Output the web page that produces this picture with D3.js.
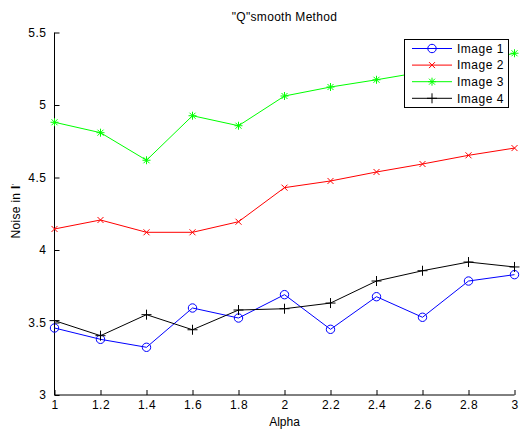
<!DOCTYPE html>
<html><head><meta charset="utf-8">
<script src="https://cdn.jsdelivr.net/npm/d3@7"></script>
<style>body{margin:0;background:#fff}svg{display:block;font-family:"Liberation Sans",Arial,sans-serif}</style>
</head><body><svg id="c" width="523" height="433"></svg>
<script>
const alpha = [1, 1.2, 1.4, 1.6, 1.8, 2.0, 2.2, 2.4, 2.6, 2.8, 3.0];
const image1 = [3.462, 3.384, 3.329, 3.600, 3.531, 3.692, 3.453, 3.678, 3.536, 3.786, 3.830];
const image2 = [4.145, 4.207, 4.122, 4.122, 4.195, 4.430, 4.476, 4.538, 4.593, 4.653, 4.703];
const image3 = [4.881, 4.809, 4.619, 4.926, 4.857, 5.062, 5.124, 5.174, 5.228, 5.290, 5.357];
const image4 = [3.513, 3.409, 3.554, 3.450, 3.586, 3.595, 3.634, 3.786, 3.857, 3.917, 3.883];
const seriesNames = ["Image 1", "Image 2", "Image 3", "Image 4"];
const colors = ["#0000ff", "#ff0000", "#00ff00", "#000000"];
const markers = ["circle", "x", "star", "plus"];
const xTicks = [1, 1.2, 1.4, 1.6, 1.8, 2, 2.2, 2.4, 2.6, 2.8, 3];
const yTicks = [3, 3.5, 4, 4.5, 5, 5.5];

const svg = d3.select("#c");
const x = d3.scaleLinear().domain([1, 3]).range([54.5, 514.5]);
const y = d3.scaleLinear().domain([3, 5.5]).range([395, 32.5]);
const fs = 12;

function marker(g, type, color) {
  if (type === "circle") {
    g.append("circle").attr("r", 4.2).attr("fill", "none").attr("stroke", color).attr("stroke-width", 1);
  } else if (type === "x") {
    const s = 3;
    g.append("path").attr("d", `M${-s},${-s}L${s},${s}M${-s},${s}L${s},${-s}`).attr("stroke", color).attr("stroke-width", 1);
  } else if (type === "star") {
    const s = 4, d = 3;
    g.append("path").attr("d", `M${-s},0L${s},0M0,${-s}L0,${s}M${-d},${-d}L${d},${d}M${-d},${d}L${d},${-d}`).attr("stroke", color).attr("stroke-width", 1);
  } else {
    const s = 5;
    g.append("path").attr("d", `M${-s},0L${s},0M0,${-s}L0,${s}`).attr("stroke", color).attr("stroke-width", 1);
  }
}

// axes
const xAxis = d3.axisBottom(x).tickValues(xTicks).tickSize(-5).tickPadding(9).tickFormat(d3.format("~g"));
const yAxis = d3.axisLeft(y).tickValues(yTicks).tickSize(-5).tickPadding(8).tickFormat(d3.format("~g"));
const gx = svg.append("g").attr("transform", "translate(0,395)").call(xAxis);
const gy = svg.append("g").attr("transform", "translate(54.5,0)").call(yAxis);
[gx, gy].forEach(g => {
  g.selectAll("text").attr("font-size", fs).attr("fill", "#000").attr("font-family", "Liberation Sans, Arial, sans-serif").attr("letter-spacing", 0.5);
  g.selectAll("line").attr("stroke", "#000");
  g.select(".domain").attr("stroke", "#000").attr("d", null);
});
gx.select(".domain").attr("d", `M54.5,0H514.5`);
gy.select(".domain").attr("d", `M0,32.5V395`);
gx.selectAll("text").attr("dy", "0.71em").attr("y", 5);

// series
const all = [image1, image2, image3, image4];
const line = d3.line().x((d, i) => x(alpha[i])).y(d => y(d));
all.forEach((vals, k) => {
  svg.append("path").datum(vals).attr("d", line).attr("fill", "none").attr("stroke", colors[k]).attr("stroke-width", 1);
  vals.forEach((v, i) => {
    const g = svg.append("g").attr("transform", `translate(${x(alpha[i])},${y(v)})`);
    marker(g, markers[k], colors[k]);
  });
});

// title and labels
svg.append("text").attr("x", 284.5).attr("y", 21).attr("text-anchor", "middle").attr("font-size", fs).attr("letter-spacing", 0.3).text('"Q"smooth Method');
svg.append("text").attr("x", 284.5).attr("y", 426).attr("text-anchor", "middle").attr("font-size", fs).text("Alpha");
const yl = svg.append("text").attr("transform", "translate(20,211) rotate(-90)").attr("text-anchor", "middle").attr("font-size", fs).attr("letter-spacing", 0.3);
yl.append("tspan").text("Noise in ");
yl.append("tspan").attr("font-weight", "bold").text("I");
yl.append("tspan").attr("font-size", 8).attr("dy", -3).text("'");

// legend
const lg = svg.append("g");
lg.append("rect").attr("x", 404.5).attr("y", 39.5).attr("width", 104).attr("height", 68).attr("fill", "#fff").attr("stroke", "#000").attr("stroke-width", 1);
seriesNames.forEach((name, k) => {
  const ry = 48.5 + k * 16.6;
  lg.append("line").attr("x1", 412).attr("x2", 452).attr("y1", ry).attr("y2", ry).attr("stroke", colors[k]).attr("stroke-width", 1);
  marker(lg.append("g").attr("transform", `translate(432,${ry})`), markers[k], colors[k]);
  lg.append("text").attr("x", 457).attr("y", ry + 4.3).attr("font-size", fs).attr("letter-spacing", 0.5).text(name);
});
</script></body></html>
